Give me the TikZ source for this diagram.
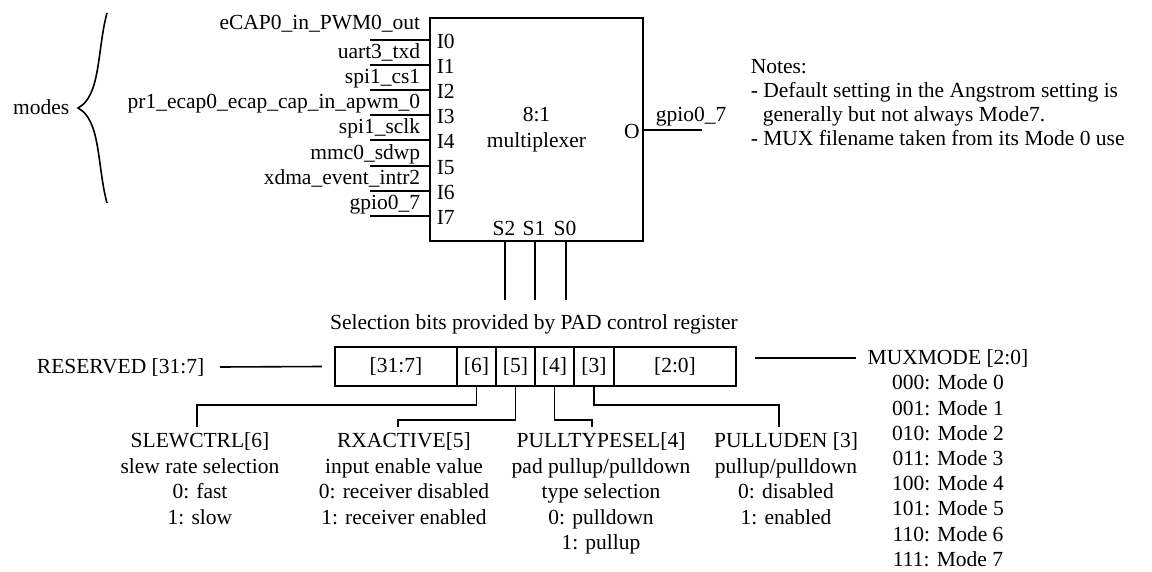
\documentclass[tikz,border=0pt]{standalone}
\usepackage{fontspec}
\setmainfont{Liberation Serif}
\usetikzlibrary{positioning}

\tikzset{
  every node/.style={font=\fontsize{21.5}{25.4}\selectfont, inner sep=0pt},
  bitcell/.style={draw, minimum height=39pt, outer sep=0pt},
  desc/.style={align=center, outer ysep=6pt},
}

\begin{document}
\begin{tikzpicture}[x=1pt, y=-1pt, line width=1.6pt]
  \useasboundingbox (0,0) rectangle (1152,572);

  % brace over the mode inputs
  \draw (107,13) .. controls (97,50) and (101,96) .. (78,108)
        .. controls (101,120) and (97,166) .. (107,203);
  \node[anchor=base east] (modes) at (70,115) {modes};

  % multiplexer
  \node[draw, minimum width=213pt, minimum height=223pt, align=center] (mux) at (536.5,129.5) {8:1\\multiplexer};

  \foreach \sig/\y/\b [count=\i from 0] in {eCAP0\_in\_PWM0\_out/40/30, uart3\_txd/65/59,
      spi1\_cs1/90/84, pr1\_ecap0\_ecap\_cap\_in\_apwm\_0/115/109, spi1\_sclk/140/134,
      mmc0\_sdwp/166/160, xdma\_event\_intr2/191/185, gpio0\_7/216/210}
  {
    \coordinate (w\i) at (370,\y);
    \draw (w\i) -- (w\i -| mux.west);
    \node[anchor=base east] (sig\i) at (421,\b) {\sig};
    \node[anchor=base west] (pin\i) at (436,\y+9) {I\i};
  }

  \node[anchor=base] (o) at (632,139) {O};
  \coordinate (out) at (702,130);
  \draw (mux.east |- out) -- (out);
  \node[anchor=base west] (gpio) at (655,122) {gpio0\_7};

  % select lines
  \foreach \s/\x in {2/505, 1/535, 0/566} {
    \coordinate (sel\s) at (\x,300);
    \draw (sel\s |- mux.south) -- (sel\s);
    \node[anchor=base] (slbl\s) at (\x-1,236) {S\s};
  }
  \node[anchor=base] (seltxt) at (534,330) {Selection bits provided by PAD control register};

  \node[anchor=north west, align=left, font=\fontsize{21.5}{24}\selectfont] (notes) at (750,59)
    {Notes:\\- Default setting in the Angstrom setting is\\\hspace*{12pt}generally but not always Mode7.\\- MUX filename taken from its Mode 0 use};

  % PAD control register
  \node[bitcell, minimum width=122pt] (r317) at (396,366.5) {[31:7]};
  \node[bitcell, minimum width=39pt, right=0pt of r317] (b6) {[6]};
  \node[bitcell, minimum width=39pt, right=0pt of b6] (b5) {[5]};
  \node[bitcell, minimum width=39pt, right=0pt of b5] (b4) {[4]};
  \node[bitcell, minimum width=40pt, right=0pt of b4] (b3) {[3]};
  \node[bitcell, minimum width=122pt, right=0pt of b3] (r20) {[2:0]};

  \node[anchor=east] (resv) at (205,367) {RESERVED [31:7]};
  \draw ([xshift=15pt]resv.east) -- ([xshift=-13pt]r317.west);

  \node[anchor=north, align=center, font=\fontsize{21.5}{25.2}\selectfont] (muxmode) at (948,349)
    {MUXMODE [2:0]\\000: Mode 0\\001: Mode 1\\010: Mode 2\\011: Mode 3\\100: Mode 4\\101: Mode 5\\110: Mode 6\\111: Mode 7};
  \coordinate (mmline) at (755,358);
  \draw (mmline) -- ([xshift=-11pt]mmline -| muxmode.west);

  % bit fields
  \node[desc, anchor=north] (slew) at (200,427) {SLEWCTRL[6]\\slew rate selection\\0: fast\\1: slow};
  \node[desc, anchor=north] (rx) at (404,427) {RXACTIVE[5]\\input enable value\\0: receiver disabled\\1: receiver enabled};
  \node[desc, anchor=north] (pts) at (601,427) {PULLTYPESEL[4]\\pad pullup/pulldown\\type selection\\0: pulldown\\1: pullup};
  \node[desc, anchor=north] (pud) at (786,427) {PULLUDEN [3]\\pullup/pulldown\\0: disabled\\1: enabled};

  \draw (b6.south) -- ++(0,19) -| ([xshift=-3pt]slew.north);
  \draw (b5.south) -- ++(0,34) -| ([xshift=-6pt]rx.north);
  \draw (b4.south) -- ++(0,34) -| ([xshift=-9pt]pts.north);
  \draw (b3.south) -- ++(0,19) -| ([xshift=-7pt]pud.north);
\end{tikzpicture}
\end{document}
